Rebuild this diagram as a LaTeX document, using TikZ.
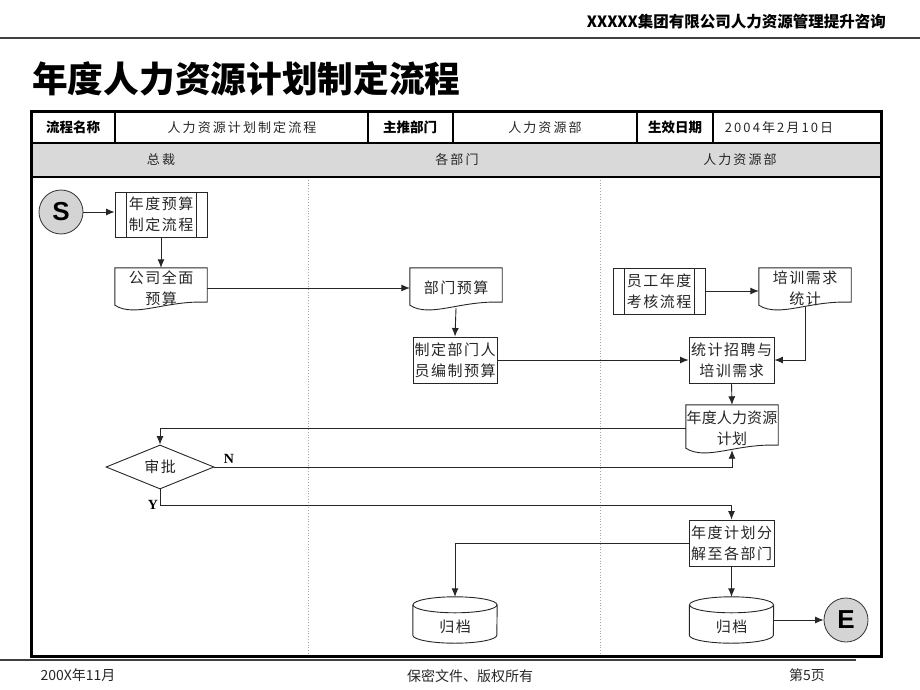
\documentclass[tikz,border=0pt]{standalone}
\usepackage{fontspec}
\setmainfont{Liberation Serif}
\newfontfamily\cjk{Noto Sans CJK SC}
\newfontfamily\cjksp[LetterSpace=10]{Noto Sans CJK SC}
\newfontfamily\cjktight[LetterSpace=1]{Noto Sans CJK SC}
\newfontfamily\cjkwide[LetterSpace=16]{Noto Sans CJK SC}
\newfontfamily\lsans{Liberation Sans}
\usetikzlibrary{arrows.meta,calc,shapes.geometric}

\newcommand\docline[1]{%
  \draw[outl] (#1.north west) -- (#1.north east) -- ($(#1.south east)+(0,-6)$)
   .. controls ($(#1.south east)!0.457!(#1.south west)+(0,-8)$) and ($(#1.south east)!0.78!(#1.south west)+(0,10)$) .. ($(#1.south west)+(0,-3)$) -- cycle;}
\newcommand\cylline[1]{%
  \draw[outl] ($(#1.north west)+(0,8)$) -- ($(#1.south west)+(0,-8)$)
    arc[start angle=180,end angle=360,x radius=42pt,y radius=8pt] -- ($(#1.north east)+(0,8)$);
  \draw[outl] ($(#1.north)+(0,8)$) ellipse[x radius=42pt,y radius=8pt];}

\tikzset{
  outl/.style={draw=black!85, line width=0.9pt},
  base/.style={inner sep=0pt, align=center, text=black!85,
     font=\cjksp\fontsize{15}{21}\selectfont},
  proc/.style={base, rectangle, outl},
  predef/.style={proc, path picture={
     \draw[outl] ([xshift=11pt]path picture bounding box.north west) -- ([xshift=11pt]path picture bounding box.south west);
     \draw[outl] ([xshift=-11pt]path picture bounding box.north east) -- ([xshift=-11pt]path picture bounding box.south east);}},
  docbox/.style={base, rectangle, minimum width=92pt, minimum height=40pt},
  cylbox/.style={base, rectangle, minimum width=84pt, minimum height=46pt},
  term/.style={circle, draw=black!80, fill=black!17, line width=0.8pt, minimum size=44pt,
     inner sep=0pt, font=\lsans\bfseries\fontsize{26}{26}\selectfont},
  dia/.style={base, diamond, outl, minimum width=108pt, minimum height=44pt, aspect=2.4},
  conn/.style={line width=0.9pt, draw=black!85, -{Latex[length=8.5pt,width=7pt]}},
  lbl/.style={inner sep=0pt, font=\cjk\bfseries\fontsize{13.5}{15}\selectfont},
  val/.style={inner sep=0pt, font=\cjkwide\fontsize{13}{15}\selectfont, text=black!85},
  lane/.style={inner sep=0pt, font=\cjkwide\fontsize{13}{15}\selectfont, text=black!85},
  foot/.style={inner sep=0pt, font=\cjk\fontsize{14}{16}\selectfont, text=black!85},
}

\begin{document}
\begin{tikzpicture}[x=1pt,y=-1pt]
\useasboundingbox (0,0) rectangle (920,690);
% header
\node[anchor=east, inner sep=0pt, font=\cjk\bfseries\fontsize{15.5}{16}\selectfont] (hdr) at (886,22) {XXXXX集团有限公司人力资源管理提升咨询};
\draw[line width=2pt, black!75] (0,38) -- (920,38);
\node[anchor=west, inner sep=0pt, font=\cjk\bfseries\fontsize{35.7}{36}\selectfont] (title) at (32,79) {年度人力资源计划制定流程};

% table frame
\fill[black!15] (31,143) rectangle (881,177);
\draw[line width=1.4pt] (115,112) -- (115,143) (368,112) -- (368,143) (453,112) -- (453,143)
   (637,112) -- (637,143) (713,112) -- (713,143);
\draw[black!35, dotted, line width=0.8pt] (308,177) -- (308,656) (600,177) -- (600,656);
\draw[line width=2.6pt] (31,143) -- (881,143) (31,177) -- (881,177);
\draw[line width=3pt] (31,112) rectangle (881,656);

\node[lbl] (l1) at (73,127.5) {流程名称};
\node[val] (v1) at (242,127.5) {人力资源计划制定流程};
\node[lbl] (l2) at (410,127.5) {主推部门};
\node[val] (v2) at (545,127.5) {人力资源部};
\node[lbl] (l3) at (675,127.5) {生效日期};
\node[val] (v3) at (779,127.5) {2004年2月10日};

\node[lane] (h1) at (161,160) {总裁};
\node[lane] (h2) at (457,160) {各部门};
\node[lane] (h3) at (740,160) {人力资源部};

% nodes
\node[term] (S) at (61,212) {S};
\node[predef, minimum width=92pt, minimum height=45pt] (pre1) at (161,214.5) {年度预算\\制定流程};
\node[docbox] (doc1) at (161,288) {公司全面\\预算};
\node[docbox] (doc2) at (456,288) {部门预算};
\node[proc, minimum width=84pt, minimum height=46pt] (r1) at (455,360) {制定部门人\\员编制预算};
\node[predef, minimum width=92pt, minimum height=46pt] (pre2) at (659,291) {员工年度\\考核流程};
\node[docbox] (doc3) at (805,288) {培训需求\\统计};
\node[proc, minimum width=85pt, minimum height=46pt] (r2) at (731.5,360) {统计招聘与\\培训需求};
\node[docbox, minimum height=46pt, font=\cjktight\fontsize{15}{21}\selectfont] (doc4) at (732,428) {年度人力资源\\计划};
\node[dia] (dia) at (160,467) {审批};
\node[proc, minimum width=85pt, minimum height=46pt] (r3) at (731.5,543) {年度计划分\\解至各部门};
\node[cylbox] (cyl1) at (455,620) {};
\node[cylbox] (cyl2) at (731.5,620) {};
\node[term] (E) at (846,620) {E};

\docline{doc1}
\docline{doc2}
\docline{doc3}
\docline{doc4}
\cylline{cyl1}
\cylline{cyl2}
\node[base] (t1) at (455,627) {归档};
\node[base] (t2) at (731.5,627) {归档};

\coordinate (ybend) at (731.5,505);

% connectors
\draw[conn] (S.east) -- (S.east -| pre1.west);
\draw[conn] (pre1.south) -- (doc1.north);
\draw[conn] (doc1.east) -- (doc2.west);
\draw[conn] (doc2.south) -- (r1.north);
\draw[conn] (r1.east) -- (r2.west);
\draw[conn] (pre2.east) -- (pre2.east -| doc3.west);
\draw[conn] ($(doc3.south)+(0,-1)$) |- (r2.east);
\draw[conn] (r2.south) -- (doc4.north);
\draw[conn] (doc4.west) -| (dia.north);
\draw[conn] (dia.east) -| ($(doc4.south)+(0,-1)$);
\draw[conn] (dia.south) |- (ybend) -- (r3.north);
\draw[conn] (r3.west) -| (cyl1.north);
\draw[conn] (r3.south) -- (cyl2.north);
\draw[conn] (cyl2.east) -- (E.west);

\node[inner sep=0pt, font=\bfseries\fontsize{14}{14}\selectfont] (N) at (229,459) {N};
\node[inner sep=0pt, font=\bfseries\fontsize{14}{14}\selectfont] (Y) at (153,505) {Y};

% footer
\draw[line width=1.8pt, black!75] (0,660) -- (856,660);
\node[foot] (f1) at (78,675) {200X年11月};
\node[foot] (f2) at (470,676) {保密文件、版权所有};
\node[foot] (f3) at (807,675) {第5页};
\end{tikzpicture}
\end{document}
